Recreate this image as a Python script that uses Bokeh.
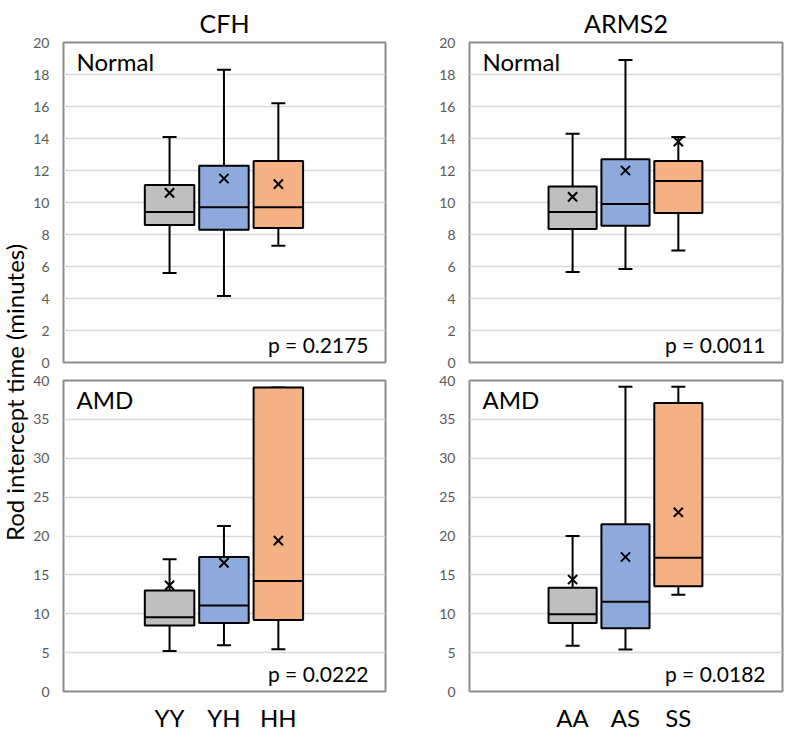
import numpy as np
from math import pi
from bokeh.plotting import figure
from bokeh.layouts import row, column
from bokeh.models import Range1d, FixedTicker, Label
from bokeh.embed import file_html
from bokeh.resources import INLINE

# ---------------- data ----------------
positions = [1, 2, 3]
colors = ["#BFBFBF", "#8EA9DB", "#F4B183"]

cfh_labels = ["YY", "YH", "HH"]
arms2_labels = ["AA", "AS", "SS"]

# CFH, Normal
cfh_n_low = [5.6, 4.15, 7.3]
cfh_n_q1 = [8.6, 8.3, 8.4]
cfh_n_med = [9.4, 9.7, 9.7]
cfh_n_q3 = [11.1, 12.3, 12.6]
cfh_n_high = [14.1, 18.3, 16.2]
cfh_n_mean = [10.6, 11.5, 11.15]

# ARMS2, Normal
arms_n_low = [5.65, 5.85, 7.0]
arms_n_q1 = [8.35, 8.55, 9.35]
arms_n_med = [9.4, 9.9, 11.35]
arms_n_q3 = [11.0, 12.7, 12.6]
arms_n_high = [14.3, 18.9, 14.1]
arms_n_mean = [10.35, 12.0, 13.8]

# CFH, AMD
cfh_a_low = [5.2, 5.95, 5.45]
cfh_a_q1 = [8.5, 8.8, 9.2]
cfh_a_med = [9.55, 11.05, 14.2]
cfh_a_q3 = [13.0, 17.3, 39.1]
cfh_a_high = [17.0, 21.3, 39.1]
cfh_a_mean = [13.65, 16.55, 19.4]

# ARMS2, AMD
arms_a_low = [5.9, 5.4, 12.45]
arms_a_q1 = [8.8, 8.15, 13.55]
arms_a_med = [9.95, 11.55, 17.2]
arms_a_q3 = [13.35, 21.5, 37.1]
arms_a_high = [20.0, 39.2, 39.2]
arms_a_mean = [14.4, 17.3, 23.05]

normal_ticks = list(range(0, 21, 2))
amd_ticks = list(range(0, 41, 5))

FONT = "Lato"
BOX_W = 0.91
XMIN, XMAX = -0.95, 4.97


def panel(width, height, bl, br, bt, bb, ymax, yticks, low, q1, med, q3, high, mean,
          tag, ptext, title=None, xlabels=None):
    p = figure(width=width, height=height, output_backend="svg", toolbar_location=None,
               x_range=Range1d(XMIN, XMAX), y_range=Range1d(0, ymax),
               min_border_left=bl, min_border_right=br, min_border_top=bt,
               min_border_bottom=bb, background_fill_color="white",
               border_fill_color="white")
    p.outline_line_color = "#8C8C8C"
    p.outline_line_width = 2
    p.xgrid.visible = False
    p.ygrid.grid_line_color = "#D9D9D9"
    p.ygrid.grid_line_width = 1.5
    p.yaxis.ticker = FixedTicker(ticks=yticks)
    p.yaxis.axis_line_color = None
    p.yaxis.major_tick_line_color = None
    p.yaxis.minor_tick_line_color = None
    p.yaxis.major_label_text_color = "#595959"
    p.yaxis.major_label_text_font = FONT
    p.yaxis.major_label_text_font_size = "14px"
    p.yaxis.major_label_standoff = 8
    if xlabels is None:
        p.xaxis.visible = False
    else:
        p.xaxis.ticker = FixedTicker(ticks=positions)
        p.xaxis.major_label_overrides = {k: v for k, v in zip(positions, xlabels)}
        p.xaxis.axis_line_color = None
        p.xaxis.major_tick_line_color = None
        p.xaxis.minor_tick_line_color = None
        p.xaxis.major_label_text_font = FONT
        p.xaxis.major_label_text_font_size = "24px"
        p.xaxis.major_label_text_color = "black"
        p.xaxis.major_label_standoff = 5
    if title:
        p.title.text = title
        p.title.align = "center"
        p.title.text_font = FONT
        p.title.text_font_size = "25px"
        p.title.text_font_style = "normal"
        p.title.text_color = "black"
        p.title.standoff = 10

    x = np.array(positions, dtype=float)
    p.segment(x0=x, y0=q3, x1=x, y1=high, line_color="black", line_width=2)
    p.segment(x0=x, y0=q1, x1=x, y1=low, line_color="black", line_width=2)
    p.scatter(x=x, y=high, marker="dash", size=14, line_color="black", line_width=2)
    p.scatter(x=x, y=low, marker="dash", size=14, line_color="black", line_width=2)
    p.vbar(x=x, width=BOX_W, bottom=q1, top=q3, fill_color=colors,
           line_color="black", line_width=2)
    p.segment(x0=x - BOX_W / 2, y0=med, x1=x + BOX_W / 2, y1=med,
              line_color="black", line_width=2)
    p.scatter(x=x, y=mean, marker="x", size=13, line_color="black", line_width=2)

    p.add_layout(Label(x=XMIN, y=ymax, x_offset=13, y_offset=-4, text=tag,
                       text_baseline="top", text_font=FONT, text_font_size="24px",
                       text_color="black"))
    p.add_layout(Label(x=XMAX, y=0, x_offset=-17, y_offset=6, text=ptext,
                       text_align="right", text_baseline="bottom", text_font=FONT,
                       text_font_size="21px", text_color="black"))
    return p


LW = 370
RW = 384
TH = 371
BH = 363

tl = panel(LW, TH, 33, 15, 40, 9, 20, normal_ticks, cfh_n_low, cfh_n_q1, cfh_n_med,
           cfh_n_q3, cfh_n_high, cfh_n_mean, "Normal", "p = 0.2175", title="CFH")
tr = panel(RW, TH, 69, 2, 40, 9, 20, normal_ticks, arms_n_low, arms_n_q1, arms_n_med,
           arms_n_q3, arms_n_high, arms_n_mean, "Normal", "p = 0.0011", title="ARMS2")
bl = panel(LW, BH, 33, 15, 9, 34, 40, amd_ticks, cfh_a_low, cfh_a_q1, cfh_a_med,
           cfh_a_q3, cfh_a_high, cfh_a_mean, "AMD", "p = 0.0222", xlabels=cfh_labels)
br = panel(RW, BH, 69, 2, 9, 34, 40, amd_ticks, arms_a_low, arms_a_q1, arms_a_med,
           arms_a_q3, arms_a_high, arms_a_mean, "AMD", "p = 0.0182", xlabels=arms2_labels)

# y-axis title panel
YT_W = 30
yt = figure(width=YT_W, height=TH + BH, output_backend="svg", toolbar_location=None,
            x_range=Range1d(0, YT_W), y_range=Range1d(0, TH + BH),
            min_border=0, background_fill_color="white", border_fill_color="white")
yt.axis.visible = False
yt.grid.visible = False
yt.outline_line_color = None
yt.add_layout(Label(x=14, y=(TH + BH) - 392, text="Rod intercept time (minutes)",
                    angle=pi / 2, text_align="center", text_baseline="alphabetic",
                    text_font=FONT, text_font_size="24px", text_color="black"))

layout = row(yt, column(row(tl, tr), row(bl, br)))

open("out.html", "w").write(file_html(layout, INLINE))
